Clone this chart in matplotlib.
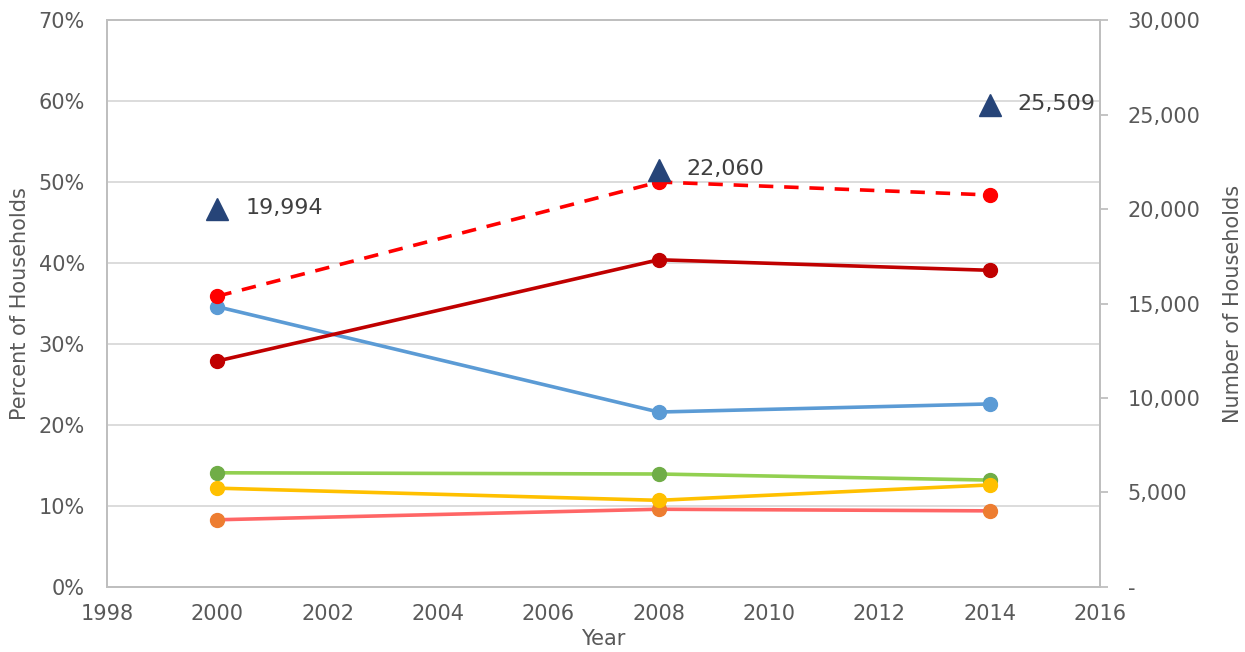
import matplotlib.pyplot as plt
from matplotlib.ticker import FuncFormatter

plt.rcParams['font.family'] = ['DejaVu Sans']

years = [2000, 2008, 2014]

# share of households by group (percent)
dashed_red = [35.9, 50.0, 48.4]
dark_red = [27.9, 40.4, 39.1]
blue = [34.6, 21.6, 22.6]
green = [14.1, 13.95, 13.2]
yellow = [12.2, 10.7, 12.6]
salmon = [8.3, 9.6, 9.4]

# total households (right axis)
households = [19994, 22060, 25509]

txt = '#595959'
grid_c = '#d9d9d9'
fs = 15

fig = plt.figure(figsize=(12.45, 6.52), dpi=100)
ax = fig.add_axes([0.086, 0.0997, 0.7975, 0.8696])
ax2 = ax.twinx()

ax.plot(years, salmon, color='#ff6666', lw=2.6, marker='o', ms=10,
        mfc='#ed7d31', mec='#ed7d31', zorder=3)
ax.plot(years, green, color='#92d050', lw=2.6, marker='o', ms=10,
        mfc='#70ad47', mec='#70ad47', zorder=3)
ax.plot(years, yellow, color='#ffc000', lw=2.6, marker='o', ms=10,
        mfc='#ffc000', mec='#ffc000', zorder=4)
ax.plot(years, blue, color='#5b9bd5', lw=2.6, marker='o', ms=10,
        mfc='#5b9bd5', mec='#5b9bd5', zorder=3)
ax.plot(years, dark_red, color='#c00000', lw=2.6, marker='o', ms=10,
        mfc='#c00000', mec='#c00000', zorder=3)
ax.plot(years, dashed_red, color='#ff0000', lw=2.6, ls=(0, (4, 3)),
        marker='o', ms=10, mfc='#ff0000', mec='#ff0000', zorder=5)

ax.set_xlim(1998, 2016)
ax.set_ylim(0, 70)
ax.set_xticks(range(1998, 2017, 2))
ax.set_yticks(range(0, 71, 10))
ax.yaxis.set_major_formatter(FuncFormatter(lambda v, p: f'{v:.0f}%'))
ax.grid(axis='y', color=grid_c, lw=1.3, zorder=0)
ax.set_axisbelow(True)

ax2.plot(years, households, ls='none', marker='^', ms=16,
         color='#264478', zorder=6)
for x, v in zip(years, households):
    ax2.annotate(f'{v:,}', (x, v), xytext=(20, 1), textcoords='offset points',
                 va='center', ha='left', fontsize=16, color='#404040')
ax2.set_ylim(0, 30000)
ax2.set_yticks(range(0, 30001, 5000))
ax2.yaxis.set_major_formatter(
    FuncFormatter(lambda v, p: '-' if v == 0 else f'{v:,.0f}'))

for a in (ax, ax2):
    for s in a.spines.values():
        s.set_color('#bfbfbf')
        s.set_linewidth(1.3)
    a.tick_params(labelsize=fs, colors=txt)

ax.tick_params(axis='y', length=0, pad=16)
ax.tick_params(axis='x', length=0, pad=12)
ax2.tick_params(axis='y', length=6, width=1.3, color='#bfbfbf', pad=14)

ax.set_xlabel('Year', fontsize=fs, color=txt, labelpad=4)
ax.set_ylabel('Percent of Households', fontsize=fs, color=txt, labelpad=6)
ax2.set_ylabel('Number of Households', fontsize=fs, color=txt, labelpad=16)

fig.savefig('out.png', dpi=100)
